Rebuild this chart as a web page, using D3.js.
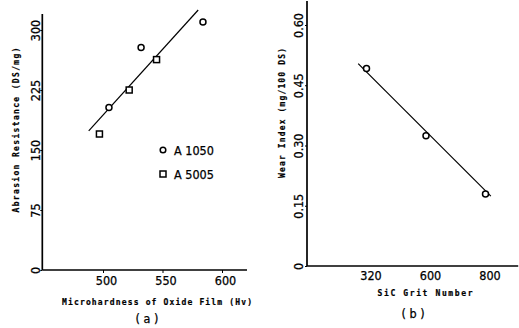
<!DOCTYPE html>
<html>
<head>
<meta charset="utf-8">
<script src="https://cdn.jsdelivr.net/npm/d3@7/dist/d3.min.js"></script>
<style>
  html, body { margin: 0; padding: 0; background: #fff; }
  svg { display: block; }
  .tick text { font-family: "Liberation Sans Narrow", "DejaVu Sans Condensed", sans-serif; font-size: 12.5px; fill: #000; stroke: #000; stroke-width: 0.25px; }
  .ttl { font-family: "DejaVu Sans Mono", monospace; font-weight: bold; font-size: 8px; fill: #000; stroke: #000; stroke-width: 0.2px; }
  .lab { font-family: "Liberation Sans Narrow", "DejaVu Sans Condensed", sans-serif; font-size: 12.5px; fill: #000; stroke: #000; stroke-width: 0.25px; }
</style>
</head>
<body>
<script>
// ---- Panel (a): abrasion resistance vs oxide film microhardness ----
const a1050Hv  = [505, 532, 584];
const a1050Res = [203, 278, 310];
const a5005Hv  = [497, 522, 545];
const a5005Res = [170, 225, 263];
const fitAHv   = [488, 580];
const fitARes  = [174, 325];
const ticksAX  = [500, 550, 600];
const ticksAY  = [0, 75, 150, 225, 300];
const legendA  = ["A 1050", "A 5005"];

// ---- Panel (b): wear index vs SiC grit number ----
const grits    = ["320", "600", "800"];
const wearIdx  = [0.492, 0.324, 0.179];
const fitBPos  = [-0.14, 2.09];
const fitBWear = [0.504, 0.174];
const ticksBY  = [0, 0.15, 0.30, 0.45, 0.60];
const ticksBYLabels = ["0", "0.15", "0.30", "0.45", "0.60"];

const W = 519, H = 328;
const svg = d3.select("body").append("svg").attr("width", W).attr("height", H);

// scales
const xA = d3.scaleLinear().domain([500, 600]).range([103, 222]);
const yA = d3.scaleLinear().domain([0, 300]).range([270, 30]);
const xB = d3.scaleLinear().domain([0, 2]).range([366.5, 485.5]);
const yB = d3.scaleLinear().domain([0, 0.6]).range([266, 25]);

function spine(g, x1, y1, x2, y2) {
  g.append("line").attr("x1", x1).attr("y1", y1).attr("x2", x2).attr("y2", y2)
    .attr("stroke", "#000").attr("stroke-width", 1.7);
}

// ---------- panel (a) ----------
const gA = svg.append("g");
const axA0 = xA(449), axA1 = xA(621);
spine(gA, axA0, yA(0), axA0, yA(320));
spine(gA, axA0, yA(0), axA1, yA(0));

gA.append("g").attr("transform", `translate(${axA0},0)`)
  .call(d3.axisLeft(yA).tickValues(ticksAY).tickSize(2).tickFormat(d3.format("d")))
  .call(g => g.select(".domain").remove())
  .call(g => g.selectAll("line").attr("stroke-width", 1))
  .call(g => g.selectAll("text").attr("x", 0).attr("dy", 0)
      .attr("text-anchor", "middle").attr("transform", "translate(-2,0) rotate(-90)"));

gA.append("g").attr("transform", `translate(0,${yA(0)})`)
  .call(d3.axisBottom(xA).tickValues(ticksAX).tickSize(3).tickFormat(d3.format("d")))
  .call(g => g.select(".domain").remove())
  .call(g => g.selectAll("text").attr("x", 3).attr("y", 6));

// fit line
gA.append("path")
  .datum(d3.zip(fitAHv, fitARes))
  .attr("d", d3.line().x(d => xA(d[0])).y(d => yA(d[1])))
  .attr("stroke", "#000").attr("stroke-width", 1.2).attr("fill", "none");

// markers
const ptsA1 = d3.zip(a1050Hv, a1050Res);
const ptsA2 = d3.zip(a5005Hv, a5005Res);
gA.selectAll("circle.a1").data(ptsA1).join("circle")
  .attr("cx", d => xA(d[0])).attr("cy", d => yA(d[1])).attr("r", 3)
  .attr("fill", "#fff").attr("stroke", "#000").attr("stroke-width", 1.5);
gA.selectAll("rect.a2").data(ptsA2).join("rect")
  .attr("x", d => xA(d[0]) - 3).attr("y", d => yA(d[1]) - 3)
  .attr("width", 6).attr("height", 6)
  .attr("fill", "#fff").attr("stroke", "#000").attr("stroke-width", 1.5);

// legend
const lg = gA.append("g");
lg.append("circle").attr("cx", 163).attr("cy", 150).attr("r", 2.8)
  .attr("fill", "#fff").attr("stroke", "#000").attr("stroke-width", 1.5);
lg.append("rect").attr("x", 160).attr("y", 171).attr("width", 6).attr("height", 6)
  .attr("fill", "#fff").attr("stroke", "#000").attr("stroke-width", 1.5);
lg.selectAll("text").data(legendA).join("text").attr("class", "lab")
  .attr("x", 174).attr("y", (d, i) => 154.5 + i * 24).text(d => d);

// titles
gA.append("text").attr("class", "ttl")
  .attr("transform", "translate(19,130) rotate(-90)").attr("text-anchor", "middle")
  .attr("textLength", 165).attr("lengthAdjust", "spacing")
  .text("Abrasion Resistance (DS/mg)");
gA.append("text").attr("class", "ttl")
  .attr("x", 157).attr("y", 305).attr("text-anchor", "middle")
  .attr("textLength", 190).attr("lengthAdjust", "spacing")
  .text("Microhardness of Oxide Film (Hv)");
gA.append("text").attr("class", "lab").attr("x", 147).attr("y", 323)
  .attr("text-anchor", "middle").text("( a )");

// ---------- panel (b) ----------
const gB = svg.append("g");
const axB0 = xB(-1), axB1 = xB(2.55);
spine(gB, axB0, yB(0), axB0, yB(0.66));
spine(gB, axB0, yB(0), axB1, yB(0));

gB.append("g").attr("transform", `translate(${axB0},0)`)
  .call(d3.axisLeft(yB).tickValues(ticksBY).tickSize(2).tickFormat((d, i) => ticksBYLabels[i]))
  .call(g => g.select(".domain").remove())
  .call(g => g.selectAll("line").attr("stroke-width", 1))
  .call(g => g.selectAll("text").attr("x", 0).attr("dy", 0)
      .attr("text-anchor", "middle").attr("transform", "translate(-4,0) rotate(-90)"));

gB.append("g").attr("transform", `translate(0,${yB(0)})`)
  .call(d3.axisBottom(xB).tickValues([0, 1, 2]).tickSize(0).tickFormat((d, i) => grits[i]))
  .call(g => g.select(".domain").remove())
  .call(g => g.selectAll("text").attr("x", 4).attr("y", 5));

gB.append("path")
  .datum(d3.zip(fitBPos, fitBWear))
  .attr("d", d3.line().x(d => xB(d[0])).y(d => yB(d[1])))
  .attr("stroke", "#000").attr("stroke-width", 1.2).attr("fill", "none");

gB.selectAll("circle.b").data(wearIdx).join("circle")
  .attr("cx", (d, i) => xB(i)).attr("cy", d => yB(d)).attr("r", 3)
  .attr("fill", "#fff").attr("stroke", "#000").attr("stroke-width", 1.5);

gB.append("text").attr("class", "ttl")
  .attr("transform", "translate(285,113) rotate(-90)").attr("text-anchor", "middle")
  .attr("textLength", 130).attr("lengthAdjust", "spacing")
  .text("Wear Index (mg/100 DS)");
gB.append("text").attr("class", "ttl")
  .attr("x", 425).attr("y", 296).attr("text-anchor", "middle")
  .attr("textLength", 95).attr("lengthAdjust", "spacing")
  .text("SiC  Grit Number");
gB.append("text").attr("class", "lab").attr("x", 413).attr("y", 318)
  .attr("text-anchor", "middle").text("( b )");
</script>
</body>
</html>
